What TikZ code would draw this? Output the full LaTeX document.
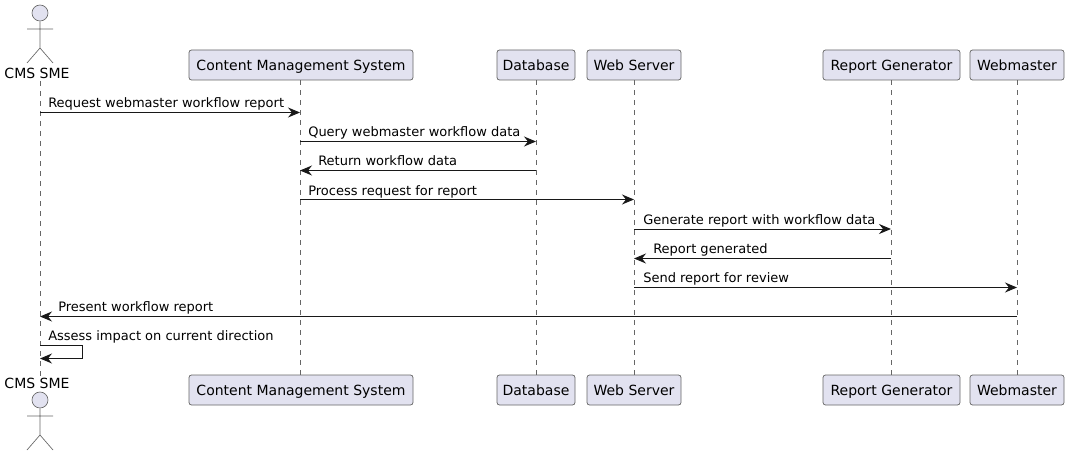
\documentclass[tikz,border=0pt]{standalone}
\usepackage{fontspec}
\setmainfont{DejaVu Sans}
\usetikzlibrary{arrows.meta}
\definecolor{boxfill}{HTML}{E2E2F0}
\definecolor{inkc}{HTML}{181818}
\definecolor{thinc}{HTML}{666666}
\tikzset{
  x=0.75pt,y=-0.75pt,
  part/.style={draw=thinc,line width=0.55pt,fill=boxfill,rounded corners=1.9pt,minimum height=22.5pt,inner sep=0pt,text height=10pt,text depth=2pt,font=\fontsize{10.5pt}{12pt}\selectfont,text=black},
  actorlabel/.style={inner sep=0pt,font=\fontsize{10.5pt}{12pt}\selectfont,text=black},
  actorline/.style={draw=thinc,line width=0.5pt},
  actorhead/.style={draw=thinc,line width=0.5pt,fill=boxfill},
  life/.style={draw=thinc,line width=0.45pt,dash pattern=on 3.75pt off 3.75pt},
  msg/.style={draw=inkc,line width=0.75pt,-{Stealth[length=9pt,width=7.5pt,inset=3pt]}},
  lab/.style={inner sep=0pt,anchor=base west,font=\fontsize{9.75pt}{12pt}\selectfont,text=black},
}
\newcommand{\participant}[4]{% name, x-left, x-right, text
  \node[part,minimum width={(#3-#2)*0.75pt}] (#1t) at ({(#2+#3)/2},65) {#4};
  \node[part,minimum width={(#3-#2)*0.75pt}] (#1b) at ({(#2+#3)/2},390) {#4};
}
\begin{document}
\begin{tikzpicture}
\useasboundingbox (0,0) rectangle (1069,456);
% lifelines first
\coordinate (smetop) at (40,81);
\coordinate (smebot) at (40,376);
\draw[life] (smetop) -- (smebot);
% participants
\participant{cms}{189}{413}{Content Management System}
\participant{db}{497}{575}{Database}
\participant{web}{587}{681}{Web Server}
\participant{gen}{823}{960}{Report Generator}
\participant{wm}{970}{1064}{Webmaster}
\coordinate (cmsl) at (300,0);
\draw[life] (cmst.south -| cmsl) -- (cmsb.north -| cmsl);
\coordinate (dbl) at (536,0);
\draw[life] (dbt.south -| dbl) -- (dbb.north -| dbl);
\coordinate (webl) at (634,0);
\draw[life] (webt.south -| webl) -- (webb.north -| webl);
\coordinate (genl) at (891,0);
\draw[life] (gent.south -| genl) -- (genb.north -| genl);
\coordinate (wml) at (1017,0);
\draw[life] (wmt.south -| wml) -- (wmb.north -| wml);
\coordinate (smel) at (40,0);
% actors
\node[actorlabel] (smetl) at (37,73) {CMS SME};
\node[actorlabel] (smebl) at (37,383.5) {CMS SME};
\node[circle,actorhead,minimum size=12pt,inner sep=0pt] (headt) at (40,13) {};
\node[circle,actorhead,minimum size=12pt,inner sep=0pt] (headb) at (40,400) {};
\draw[actorline] (headt.south) -- (40,48) (27,29) -- (53,29) (27,63) -- (40,48) -- (53,63);
\draw[actorline] (headb.south) -- (40,435) (27,416) -- (53,416) (27,450) -- (40,435) -- (53,450);
% messages
\draw[msg] (smel |- 0,112.5) -- (cmsl |- 0,112.5);
\node[lab] (m1) at (48,108) {Request webmaster workflow report};
\draw[msg] (cmsl |- 0,141.5) -- (dbl |- 0,141.5);
\node[lab] (m2) at (308,137) {Query webmaster workflow data};
\draw[msg] (dbl |- 0,170.5) -- (cmsl |- 0,170.5);
\node[lab] (m3) at (318,166) {Return workflow data};
\draw[msg] (cmsl |- 0,199.5) -- (webl |- 0,199.5);
\node[lab] (m4) at (308,195) {Process request for report};
\draw[msg] (webl |- 0,229) -- (genl |- 0,229);
\node[lab] (m5) at (643,224) {Generate report with workflow data};
\draw[msg] (genl |- 0,258.5) -- (webl |- 0,258.5);
\node[lab] (m6) at (653,253) {Report generated};
\draw[msg] (webl |- 0,287.5) -- (wml |- 0,287.5);
\node[lab] (m7) at (643,282) {Send report for review};
\draw[msg] (wml |- 0,316.5) -- (smel |- 0,316.5);
\node[lab] (m8) at (58,311) {Present workflow report};
\draw[msg] (smel |- 0,345.5) -- (82,345.5) -- (82,358.5) -- (smel |- 0,358.5);
\node[lab] (m9) at (48,340) {Assess impact on current direction};
\end{tikzpicture}
\end{document}
